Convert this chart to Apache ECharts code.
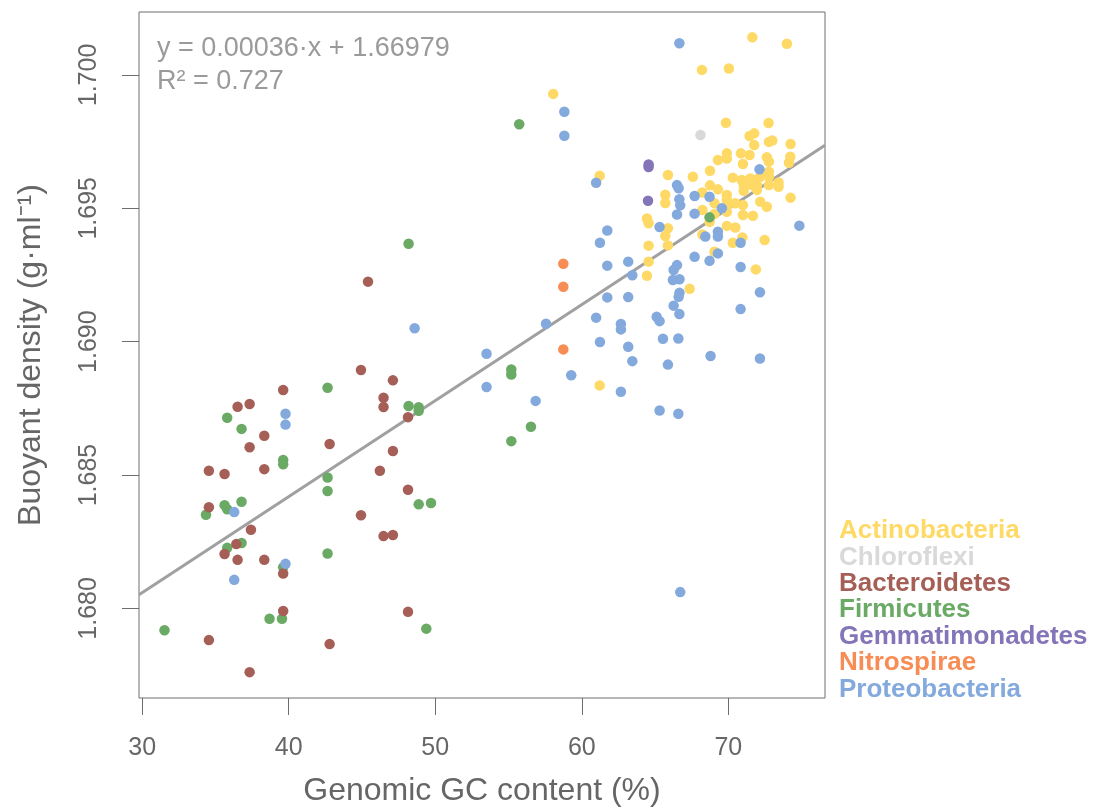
<!DOCTYPE html>
<html>
<head>
<meta charset="utf-8">
<title>Buoyant density vs genomic GC content</title>
<script src="https://cdn.jsdelivr.net/npm/echarts@6/dist/echarts.min.js"></script>
<style>
  html, body { margin: 0; padding: 0; background: #ffffff; }
  #chart { width: 1093px; height: 812px; }
</style>
</head>
<body>
<div id="chart"></div>
<script>
// Genome GC content (%) and buoyant density (g/ml), one list per phylum
const actinobacteria = [
  [58.05,1.69929],[61.22,1.69622],[61.22,1.68836],[64.45,1.69462],[64.56,1.69444],[64.56,1.69360],
  [64.56,1.69300],[64.45,1.69247],[68.20,1.70019],[65.88,1.69625],[67.58,1.69618],[65.70,1.69551],
  [65.70,1.69520],[65.88,1.69425],[65.70,1.69396],[65.88,1.69361],[69.84,1.69821],[69.90,1.69706],
  [69.90,1.69687],[69.29,1.69681],[68.75,1.69641],[68.23,1.69559],[68.75,1.69586],[69.29,1.69571],
  [69.90,1.69550],[69.90,1.69531],[69.06,1.69519],[68.23,1.69494],[69.90,1.69509],[69.90,1.69487],
  [69.06,1.69479],[68.72,1.69449],[69.90,1.69434],[68.23,1.69402],[69.06,1.69337],[67.36,1.69198],
  [70.31,1.69371],[72.48,1.69381],[71.88,1.69271],[71.64,1.70141],[74.00,1.70117],[70.04,1.70024],
  [72.75,1.69820],[71.45,1.69771],[71.77,1.69781],[72.77,1.69749],[73.00,1.69754],[71.77,1.69737],
  [74.25,1.69741],[70.86,1.69706],[71.45,1.69700],[71.00,1.69666],[72.63,1.69691],[72.77,1.69675],
  [74.23,1.69693],[74.14,1.69671],[70.31,1.69615],[72.77,1.69637],[72.77,1.69618],[70.91,1.69606],
  [71.50,1.69612],[71.84,1.69606],[72.18,1.69618],[71.05,1.69587],[71.62,1.69587],[71.96,1.69587],
  [72.77,1.69587],[73.43,1.69597],[73.43,1.69581],[71.05,1.69566],[71.96,1.69569],[74.25,1.69540],
  [70.48,1.69519],[71.00,1.69512],[72.18,1.69525],[72.63,1.69506],[70.48,1.69428],[71.00,1.69475],
  [71.68,1.69472],[70.96,1.69391]
];
const chloroflexi = [[68.10,1.69775]];
const bacteroidetes = [
  [34.55,1.67881],[37.33,1.67761],[36.51,1.68756],[37.33,1.68766],[39.62,1.68819],[38.33,1.68647],
  [37.33,1.68604],[34.55,1.68516],[35.62,1.68504],[38.33,1.68522],[42.79,1.68616],[34.55,1.68379],
  [37.42,1.68295],[36.42,1.68241],[35.62,1.68204],[36.51,1.68182],[38.33,1.68182],[39.62,1.68131],
  [39.62,1.67990],[42.79,1.67866],[45.41,1.69225],[44.93,1.68894],[47.11,1.68855],[46.47,1.68790],
  [46.47,1.68755],[48.14,1.68717],[47.11,1.68590],[46.22,1.68516],[48.14,1.68445],[44.93,1.68349],
  [46.47,1.68271],[47.11,1.68275],[48.14,1.67987]
];
const firmicutes = [
  [31.52,1.67918],[35.80,1.68715],[36.78,1.68673],[39.62,1.68556],[39.62,1.68540],[42.65,1.68827],
  [42.65,1.68491],[42.65,1.68440],[34.35,1.68351],[35.62,1.68387],[35.80,1.68372],[36.78,1.68400],
  [35.80,1.68227],[36.78,1.68245],[39.62,1.68154],[42.65,1.68206],[38.69,1.67961],[39.54,1.67961],
  [48.18,1.69367],[48.18,1.68759],[48.87,1.68754],[48.87,1.68741],[48.87,1.68390],[49.71,1.68395],
  [49.39,1.67924],[55.73,1.69815],[55.19,1.68896],[55.19,1.68877],[56.53,1.68681],[55.19,1.68627],
  [68.72,1.69466]
];
const gemmatimonadetes = [[64.56,1.69664],[64.56,1.69655],[64.52,1.69528]];
const nitrospirae = [[58.74,1.69292],[58.74,1.69206],[58.74,1.68971]];
const proteobacteria = [
  [39.78,1.68730],[39.78,1.68689],[36.28,1.68361],[39.78,1.68167],[36.28,1.68107],[48.59,1.69050],
  [53.50,1.68955],[53.50,1.68830],[58.81,1.69862],[58.81,1.69772],[60.98,1.69596],[61.74,1.69417],
  [61.24,1.69371],[61.74,1.69285],[63.17,1.69300],[63.45,1.69249],[61.74,1.69166],[63.17,1.69167],
  [57.56,1.69067],[60.98,1.69090],[62.67,1.69066],[62.67,1.69046],[61.24,1.68999],[63.17,1.68981],
  [63.45,1.68927],[59.28,1.68874],[62.67,1.68812],[56.85,1.68778],[66.66,1.70119],[66.50,1.69587],
  [66.61,1.69575],[66.66,1.69534],[66.72,1.69511],[67.70,1.69546],[66.50,1.69477],[67.70,1.69480],
  [65.31,1.69430],[67.70,1.69318],[66.50,1.69287],[68.72,1.69543],[69.56,1.69500],[68.43,1.69394],
  [69.29,1.69412],[69.29,1.69394],[69.29,1.69331],[68.72,1.69303],[66.27,1.69269],[66.22,1.69231],
  [66.67,1.69234],[66.67,1.69183],[66.61,1.69168],[70.84,1.69371],[70.84,1.69280],[66.27,1.69135],
  [66.66,1.69104],[72.16,1.69185],[70.84,1.69122],[65.11,1.69093],[65.31,1.69077],[65.54,1.69011],
  [66.59,1.69012],[68.79,1.68946],[72.16,1.68937],[65.88,1.68914],[65.31,1.68742],[66.59,1.68730],
  [66.72,1.68061],[72.13,1.69646],[74.85,1.69435]
];

// Phylum names (legend order) and tick values
const phyla = ['Actinobacteria','Chloroflexi','Bacteroidetes','Firmicutes','Gemmatimonadetes','Nitrospirae','Proteobacteria'];
const gcTicks = [30, 40, 50, 60, 70];
const densityTicks = [1.680, 1.685, 1.690, 1.695, 1.700];

// Linear fit reported on the plot
const slope = 0.00036;
const intercept = 1.66979;
const rSquared = 0.727;

const colors = {
  Actinobacteria: '#FFD966',
  Chloroflexi: '#D9D9D9',
  Bacteroidetes: '#A65F57',
  Firmicutes: '#6AAA64',
  Gemmatimonadetes: '#8474B8',
  Nitrospirae: '#F78C55',
  Proteobacteria: '#83A9DD'
};
const pointsByPhylum = {
  Actinobacteria: actinobacteria,
  Chloroflexi: chloroflexi,
  Bacteroidetes: bacteroidetes,
  Firmicutes: firmicutes,
  Gemmatimonadetes: gemmatimonadetes,
  Nitrospirae: nitrospirae,
  Proteobacteria: proteobacteria
};
// Drawing order (later series on top)
const drawOrder = ['Actinobacteria','Chloroflexi','Firmicutes','Bacteroidetes','Gemmatimonadetes','Nitrospirae','Proteobacteria'];

const X_MIN = 29.78, X_MAX = 76.60;
const Y_MIN = 1.67664, Y_MAX = 1.70236;
const FONT = '"Liberation Sans", Arial, Helvetica, sans-serif';
const AXIS_GREY = '#6e6e6e';
const TEXT_GREY = '#666666';

const chart = echarts.init(document.getElementById('chart'), null, { renderer: 'canvas' });

const scatterSeries = drawOrder.map(name => ({
  name: name,
  type: 'scatter',
  data: pointsByPhylum[name],
  symbol: 'circle',
  symbolSize: 10.5,
  itemStyle: { color: colors[name], opacity: 1 },
  z: 3
}));

const fitSeries = {
  name: 'fit',
  type: 'line',
  data: [[X_MIN, slope * X_MIN + intercept], [X_MAX, slope * X_MAX + intercept]],
  showSymbol: false,
  symbol: 'none',
  lineStyle: { color: '#a0a0a0', width: 3 },
  z: 2,
  silent: true
};

const legendTexts = phyla.map((name, i) => ({
  type: 'text',
  left: 839,
  top: 518 + i * 26.4,
  style: {
    text: name,
    fill: colors[name],
    font: 'bold 26px ' + FONT
  }
}));

chart.setOption({
  animation: false,
  backgroundColor: '#ffffff',
  grid: {
    left: 139, top: 12, width: 686, height: 686,
    show: true, borderColor: AXIS_GREY, borderWidth: 1, backgroundColor: 'transparent'
  },
  xAxis: {
    type: 'value',
    min: X_MIN, max: X_MAX,
    name: 'Genomic GC content (%)',
    nameLocation: 'middle',
    nameGap: 77,
    nameTextStyle: { fontFamily: FONT, fontSize: 32, color: TEXT_GREY },
    axisLine: { show: false },
    splitLine: { show: false },
    axisTick: { show: true, inside: false, length: 17, customValues: gcTicks, lineStyle: { color: AXIS_GREY, width: 1 } },
    axisLabel: { customValues: gcTicks, margin: 38, fontFamily: FONT, fontSize: 25, color: TEXT_GREY, formatter: v => String(v) }
  },
  yAxis: {
    type: 'value',
    min: Y_MIN, max: Y_MAX,
    name: 'Buoyant density (g\u00b7ml\u207b\u00b9)',
    nameLocation: 'middle',
    nameRotate: 90,
    nameGap: 92,
    nameTextStyle: { fontFamily: FONT, fontSize: 32, color: TEXT_GREY },
    axisLine: { show: false },
    splitLine: { show: false },
    axisTick: { show: true, inside: false, length: 17, customValues: densityTicks, lineStyle: { color: AXIS_GREY, width: 1 } },
    axisLabel: { customValues: densityTicks, rotate: 90, margin: 37, fontFamily: FONT, fontSize: 25, color: TEXT_GREY, formatter: v => v.toFixed(3) }
  },
  series: [fitSeries].concat(scatterSeries),
  graphic: [
    {
      type: 'text', left: 157, top: 35,
      style: { text: 'y = ' + slope.toFixed(5) + '\u00b7x + ' + intercept.toFixed(5), fill: '#9a9a9a', font: '27px ' + FONT }
    },
    {
      type: 'text', left: 157, top: 68,
      style: { text: 'R\u00b2 = ' + rSquared.toFixed(3), fill: '#9a9a9a', font: '27px ' + FONT }
    }
  ].concat(legendTexts)
});
</script>
</body>
</html>
